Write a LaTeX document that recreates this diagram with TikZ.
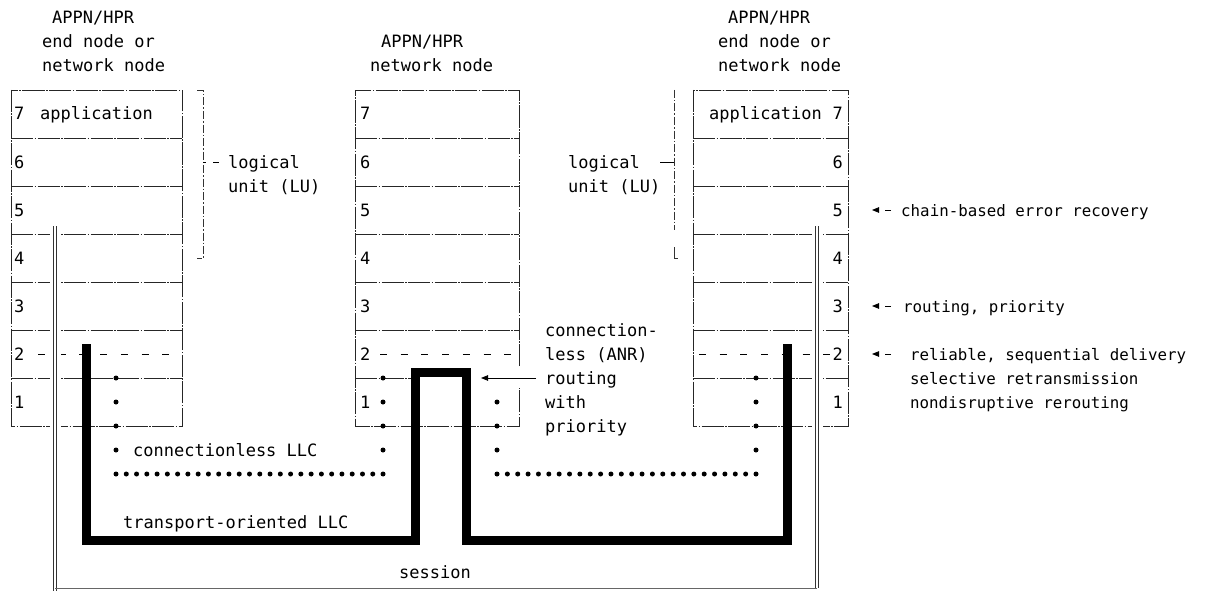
\documentclass[tikz,border=0pt]{standalone}
\usepackage{fontspec}
\setmainfont{DejaVu Sans Mono}
\usetikzlibrary{arrows.meta}
\begin{document}
\begin{tikzpicture}[x=1pt,y=-1pt,
  txt/.style={inner sep=0pt,anchor=base west,font=\fontsize{17}{20}\selectfont},
  txtr/.style={txt,anchor=base east},
  ntxt/.style={inner sep=0pt,anchor=base west,font=\fontsize{15.8}{20}\selectfont},
  boxln/.style={line width=0.8pt,black!85,dash pattern=on 22pt off 1.5pt on 1.5pt off 1.5pt},
  brk/.style={line width=0.8pt,black!80,dash pattern=on 8pt off 2pt on 1.5pt off 2pt},
  rowtwo/.style={line width=0.9pt,dash pattern=on 7pt off 13.7pt},
  heavy/.style={line width=9pt,line join=miter,miter limit=10},
  sess/.style={double,double distance=2.4pt,line width=0.6pt,draw=black!80},
  gapln/.style={white,line width=11pt},
  note/.style={-{Triangle[length=7pt,width=5.5pt]},line width=0.8pt,dash pattern=on 6pt off 30pt},
  lead/.style={-{Triangle[length=7pt,width=5.5pt]},line width=0.8pt},
]
\useasboundingbox (0,0) rectangle (1222,591);
\fill[white] (0,0) rectangle (1222,591);

% ---------- stacks ----------
% left stack
\draw[boxln] (11,90) rectangle (182,426);
\foreach \y in {138,186,234,282,330,378} \draw[boxln] (11,\y) -- (182,\y);
% middle stack
\draw[boxln] (519,366) -- (519,90) -- (355,90) -- (355,426) -- (519,426) -- (519,388);
\foreach \y in {138,186,234,282,330} \draw[boxln] (355,\y) -- (519,\y);
\draw[boxln] (355,378) -- (411,378);
% right stack
\draw[boxln] (693,90) rectangle (848,426);
\foreach \y in {138,186,234,282,330,378} \draw[boxln] (693,\y) -- (848,\y);

% layer 2 dashed lines
\draw[rowtwo] (38,354) -- (182,354);
\draw[rowtwo] (380,354) -- (519,354);
\draw[rowtwo] (699,354) -- (834,354);

% brackets for logical unit
\draw[brk] (197,90) -- (203,90) -- (203,258) -- (197,258);
\draw[line width=0.8pt,dash pattern=on 3pt off 7pt on 6pt off 10pt] (203,162) -- (219,162);
\draw[brk] (674,90) -- (674,230);
\draw[line width=0.8pt,black!80] (674,247) -- (674,258) -- (678,258);
\draw[line width=0.8pt] (660,162) -- (674,162);

% ---------- session (double line) ----------
\coordinate (sL) at (55,226);
\coordinate (sLb) at (55,591);
\coordinate (sR) at (817,226);
\coordinate (sRb) at (817,588);
\draw[gapln] (sL) -- (sLb);
\draw[gapln] (sR) -- (sRb);
\draw[sess] (sL) -- (sLb);
\draw[sess] (sR) -- (sRb);
\draw[line width=0.6pt,black!60] (55,588) -- (sRb);

% ---------- transport-oriented LLC (heavy) ----------
\coordinate (hA) at (86,344);
\coordinate (hB) at (787,344);
\draw[heavy] (hA) -- (86,540) -- (415,540) -- (415,372) -- (466,372) -- (466,540) -- (787,540) -- (hB);

% ---------- connectionless LLC (dots) ----------
\foreach \i in {0,...,26} \fill ({116+\i*10.27},474) circle (2.5pt);
\foreach \i in {0,...,25} \fill ({497+\i*10.36},474) circle (2.5pt);
\foreach \y in {378,402,426,450} {
  \fill (116,\y) circle (2.5pt);
  \fill (383,\y) circle (2.5pt);
  \fill (756,\y) circle (2.5pt);
}
\foreach \y in {402,426,450} \fill (497,\y) circle (2.5pt);

% ---------- titles ----------
\node[txt] (tl1) at (52,24) {APPN/HPR};
\node[txt] (tl2) at (42,48) {end node or};
\node[txt] (tl3) at (42,72) {network node};
\node[txt] (tm1) at (381,48) {APPN/HPR};
\node[txt] (tm2) at (370,72) {network node};
\node[txt] (tr1) at (728,24) {APPN/HPR};
\node[txt] (tr2) at (718,48) {end node or};
\node[txt] (tr3) at (718,72) {network node};

% ---------- layer labels ----------
\node[txt] (l7) at (14,120) {7};
\node[txt] (lapp) at (40,120) {application};
\node[txt] (l6) at (14,168) {6};
\node[txt] (l5) at (14,216) {5};
\node[txt] (l4) at (14,264) {4};
\node[txt] (l3) at (14,312) {3};
\node[txt] (l2) at (14,360) {2};
\node[txt] (l1) at (14,408) {1};

\node[txt] (m7) at (360,120) {7};
\node[txt] (m6) at (360,168) {6};
\node[txt] (m5) at (360,216) {5};
\node[txt] (m4) at (360,264) {4};
\node[txt] (m3) at (360,312) {3};
\node[txt] (m2) at (360,360) {2};
\node[txt] (m1) at (360,408) {1};

\node[txtr] (rapp) at (822,120) {application};
\node[txtr] (r7) at (843,120) {7};
\node[txtr] (r6) at (843,168) {6};
\node[txtr] (r5) at (843,216) {5};
\node[txtr] (r4) at (843,264) {4};
\node[txtr] (r3) at (843,312) {3};
\node[txtr] (r2) at (843,360) {2};
\node[txtr] (r1) at (843,408) {1};

% ---------- logical unit labels ----------
\node[txt] (lu1) at (228,168) {logical};
\node[txt] (lu2) at (228,192) {unit (LU)};
\node[txt] (ru1) at (568,168) {logical};
\node[txt] (ru2) at (568,192) {unit (LU)};

% ---------- middle annotation ----------
\node[txt] (c1) at (545,336) {connection-};
\node[txt] (c2) at (545,360) {less (ANR)};
\node[txt] (c3) at (545,384) {routing};
\node[txt] (c4) at (545,408) {with};
\node[txt] (c5) at (545,432) {priority};
\coordinate (ctip) at (481,378);
\draw[lead] (c3.west |- ctip) ++(-9,0) -- (ctip);

% ---------- LLC / session labels ----------
\node[txt] (cl) at (133,456) {connectionless LLC};
\node[txt] (to) at (123,528) {transport-oriented LLC};
\node[txt] (se) at (399,578) {session};

% ---------- right annotations ----------
\node[ntxt] (n5) at (901,216) {chain-based error recovery};
\node[ntxt] (n3) at (903,312) {routing, priority};
\node[ntxt] (n2a) at (910,360) {reliable, sequential delivery};
\node[ntxt] (n2b) at (910,384) {selective retransmission};
\node[ntxt] (n2c) at (910,408) {nondisruptive rerouting};
\coordinate (a5) at (872,210);
\coordinate (a3) at (872,306);
\coordinate (a2) at (872,354);
\draw[note] (891,210) -- (a5);
\draw[note] (891,306) -- (a3);
\draw[note] (891,354) -- (a2);
\end{tikzpicture}
\end{document}
